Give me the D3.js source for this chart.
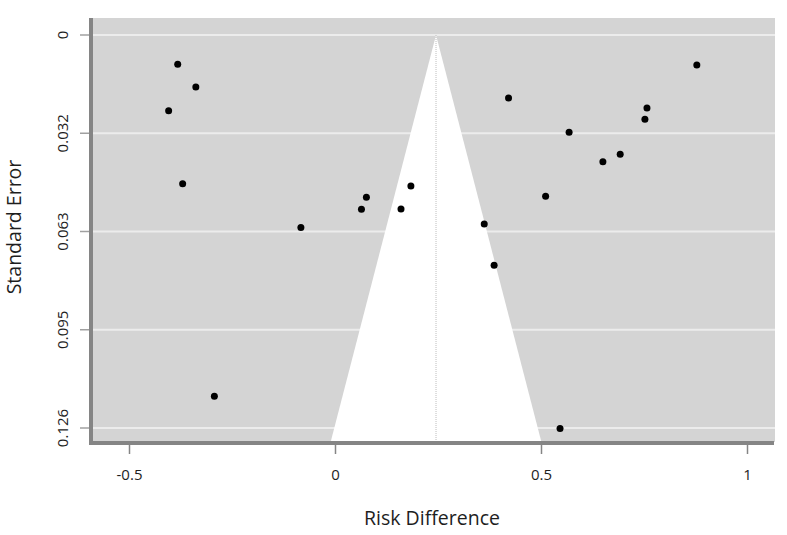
<!DOCTYPE html>
<html>
<head>
    <title>Funnel Plot</title>
    <script src="https://d3js.org/d3.v7.min.js"></script>
    <style>
        body { margin: 0; background: #fff; }
        svg text { font-family: "Open Sans", "DejaVu Sans", sans-serif; fill: #1e1e1e; }
    </style>
</head>
<body>
    <div id="chart"></div>
    <script>
        // Study estimates
        const riskDiff = [-0.383, -0.339, -0.405, -0.371, 0.183, 0.075, 0.063, 0.159, -0.084,
                          0.877, 0.420, 0.756, 0.751, 0.567, 0.691, 0.649, 0.510, 0.361, 0.385,
                          -0.294, 0.545];
        const stdErr = [0.0094, 0.0167, 0.0243, 0.0477, 0.0484, 0.0520, 0.0559, 0.0558, 0.0617,
                        0.0096, 0.0202, 0.0234, 0.0270, 0.0312, 0.0382, 0.0406, 0.0517, 0.0606, 0.0738,
                        0.1158, 0.1262];
        const pooled = 0.244;
        const xTicks = [-0.5, 0, 0.5, 1];
        const xTickLabels = ["-0.5", "0", "0.5", "1"];
        const yTicks = [0, 0.0315, 0.063, 0.0945, 0.126];
        const yTickLabels = ["0", "0.032", "0.063", "0.095", "0.126"];

        const width = 787, height = 535;

        const svg = d3.select("#chart").append("svg")
            .attr("width", width)
            .attr("height", height);

        const x = d3.scaleLinear().domain([0, 1]).range([335.5, 747.5]);
        const y = d3.scaleLinear().domain([0, 0.126]).range([35, 428]);

        // plot box
        const box = { left: 93, right: 775, top: 18, bottom: 442 };
        const seMax = y.invert(box.bottom);

        svg.append("rect")
            .attr("x", box.left).attr("y", box.top)
            .attr("width", box.right - box.left).attr("height", box.bottom - box.top)
            .attr("fill", "#d4d4d4");

        // gridlines
        svg.append("g")
            .selectAll("line")
            .data(yTicks)
            .enter()
            .append("line")
            .attr("x1", box.left).attr("x2", box.right)
            .attr("y1", d => y(d)).attr("y2", d => y(d))
            .attr("stroke", "#ececec")
            .attr("stroke-width", 2);

        // funnel (95% limits)
        const funnel = [[pooled, 0], [pooled + 1.96 * seMax, seMax], [pooled - 1.96 * seMax, seMax]];
        svg.append("path")
            .attr("d", d3.line().x(d => x(d[0])).y(d => y(d[1]))(funnel) + "Z")
            .attr("fill", "#fff");

        svg.append("line")
            .attr("x1", x(pooled)).attr("x2", x(pooled))
            .attr("y1", y(0)).attr("y2", box.bottom)
            .attr("stroke", "#bdbdbd")
            .attr("stroke-width", 1)
            .attr("stroke-dasharray", "1,1");

        // points
        svg.append("g")
            .selectAll("circle")
            .data(riskDiff)
            .enter()
            .append("circle")
            .attr("cx", d => x(d))
            .attr("cy", (d, i) => y(stdErr[i]))
            .attr("r", 3.5)
            .attr("fill", "#000");

        // axes
        const xAxis = svg.append("g");
        xAxis.append("line")
            .attr("x1", 89).attr("x2", 774)
            .attr("y1", 443).attr("y2", 443)
            .attr("stroke", "#858585").attr("stroke-width", 4);
        xAxis.selectAll(".tick")
            .data(xTicks)
            .enter()
            .append("line")
            .attr("x1", d => x(d)).attr("x2", d => x(d))
            .attr("y1", 445).attr("y2", 454)
            .attr("stroke", "#858585").attr("stroke-width", 1.5);
        xAxis.selectAll("text")
            .data(xTicks)
            .enter()
            .append("text")
            .attr("x", d => x(d))
            .attr("y", 480)
            .attr("text-anchor", "middle")
            .style("font-size", "15px")
            .text((d, i) => xTickLabels[i]);

        const yAxis = svg.append("g");
        yAxis.append("line")
            .attr("x1", 91).attr("x2", 91)
            .attr("y1", 18).attr("y2", 445)
            .attr("stroke", "#858585").attr("stroke-width", 4);
        yAxis.selectAll(".tick")
            .data(yTicks)
            .enter()
            .append("line")
            .attr("x1", 80).attr("x2", 89)
            .attr("y1", d => y(d)).attr("y2", d => y(d))
            .attr("stroke", "#a0a0a0").attr("stroke-width", 1.5);
        yAxis.selectAll("text")
            .data(yTicks)
            .enter()
            .append("text")
            .attr("transform", d => `translate(68,${y(d)}) rotate(-90)`)
            .attr("text-anchor", "middle")
            .style("font-size", "15px")
            .text((d, i) => yTickLabels[i]);

        // axis titles
        svg.append("text")
            .attr("x", 432).attr("y", 525)
            .attr("text-anchor", "middle")
            .style("font-size", "19.5px")
            .text("Risk Difference");

        svg.append("text")
            .attr("transform", "translate(21,227) rotate(-90)")
            .attr("text-anchor", "middle")
            .style("font-size", "19.5px")
            .text("Standard Error");
    </script>
</body>
</html>
